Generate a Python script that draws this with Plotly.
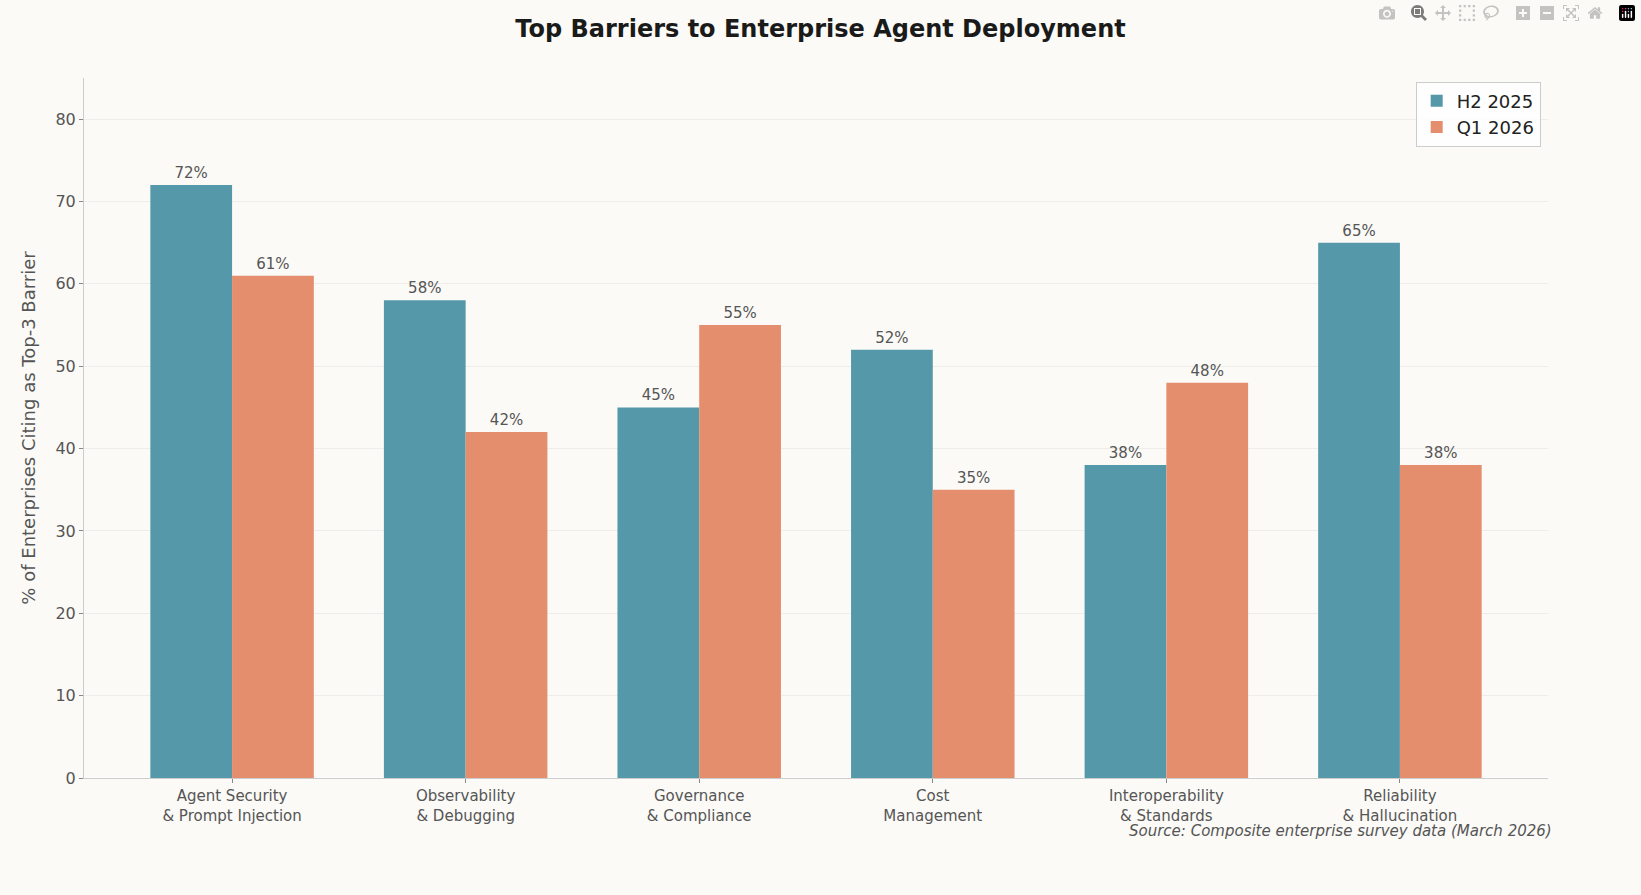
import plotly.graph_objects as go

categories = ["Agent Security<br>& Prompt Injection", "Observability<br>& Debugging", "Governance<br>& Compliance",
              "Cost<br>Management", "Interoperability<br>& Standards", "Reliability<br>& Hallucination"]
h2_2025 = [72, 58, 45, 52, 38, 65]
q1_2026 = [61, 42, 55, 35, 48, 38]
y_ticks = [0, 10, 20, 30, 40, 50, 60, 70, 80]

fig = go.Figure()
for name, vals, col in [("H2 2025", h2_2025, "#5598AA"), ("Q1 2026", q1_2026, "#E48E6D")]:
    fig.add_trace(go.Bar(x=list(range(len(categories))), y=vals, name=name, marker_color=col,
                         marker_line_width=0, text=[f"{v}%" for v in vals], textposition="outside",
                         textfont=dict(size=15, color="#555555"), cliponaxis=False))

fig.update_layout(
    barmode="group", bargap=0.3, bargroupgap=0,
    width=1641, height=895,
    paper_bgcolor="#FBFAF7", plot_bgcolor="#FBFAF7",
    font=dict(family="DejaVu Sans", color="#555555"),
    margin=dict(l=84, r=93, t=78, b=117),
    title=dict(text="<b>Top Barriers to Enterprise Agent Deployment</b>", x=0.5, xanchor="center",
               y=0.968, yanchor="middle", font=dict(size=24, color="#1a1a1a")),
    legend=dict(x=0.995, y=0.995, xanchor="right", yanchor="top", bgcolor="rgba(255,255,255,0.8)",
                bordercolor="#cccccc", borderwidth=1, font=dict(size=18, color="#222222")),
    xaxis=dict(tickmode="array", tickvals=list(range(len(categories))), ticktext=categories,
               range=[-0.634, 5.634], showline=True, linecolor="#cccccc", ticks="outside",
               ticklen=4, tickcolor="#888888", tickfont=dict(size=15, color="#555555")),
    yaxis=dict(range=[0, 85], tickvals=y_ticks, showgrid=True, gridcolor="#EEEDEA",
               showline=True, linecolor="#cccccc", ticks="outside", ticklen=4, tickcolor="#888888",
               tickfont=dict(size=16, color="#555555"),
               title=dict(text="% of Enterprises Citing as Top-3 Barrier", font=dict(size=18, color="#555555"))),
    annotations=[dict(text="<i>Source: Composite enterprise survey data (March 2026)</i>", xref="paper",
                      yref="paper", x=1.004, y=-0.075, xanchor="right", yanchor="middle", showarrow=False,
                      font=dict(size=15, color="#555555"))],
)
fig.write_html("out.html", post_script="document.body.style.margin='0';document.body.style.overflow='hidden';")
